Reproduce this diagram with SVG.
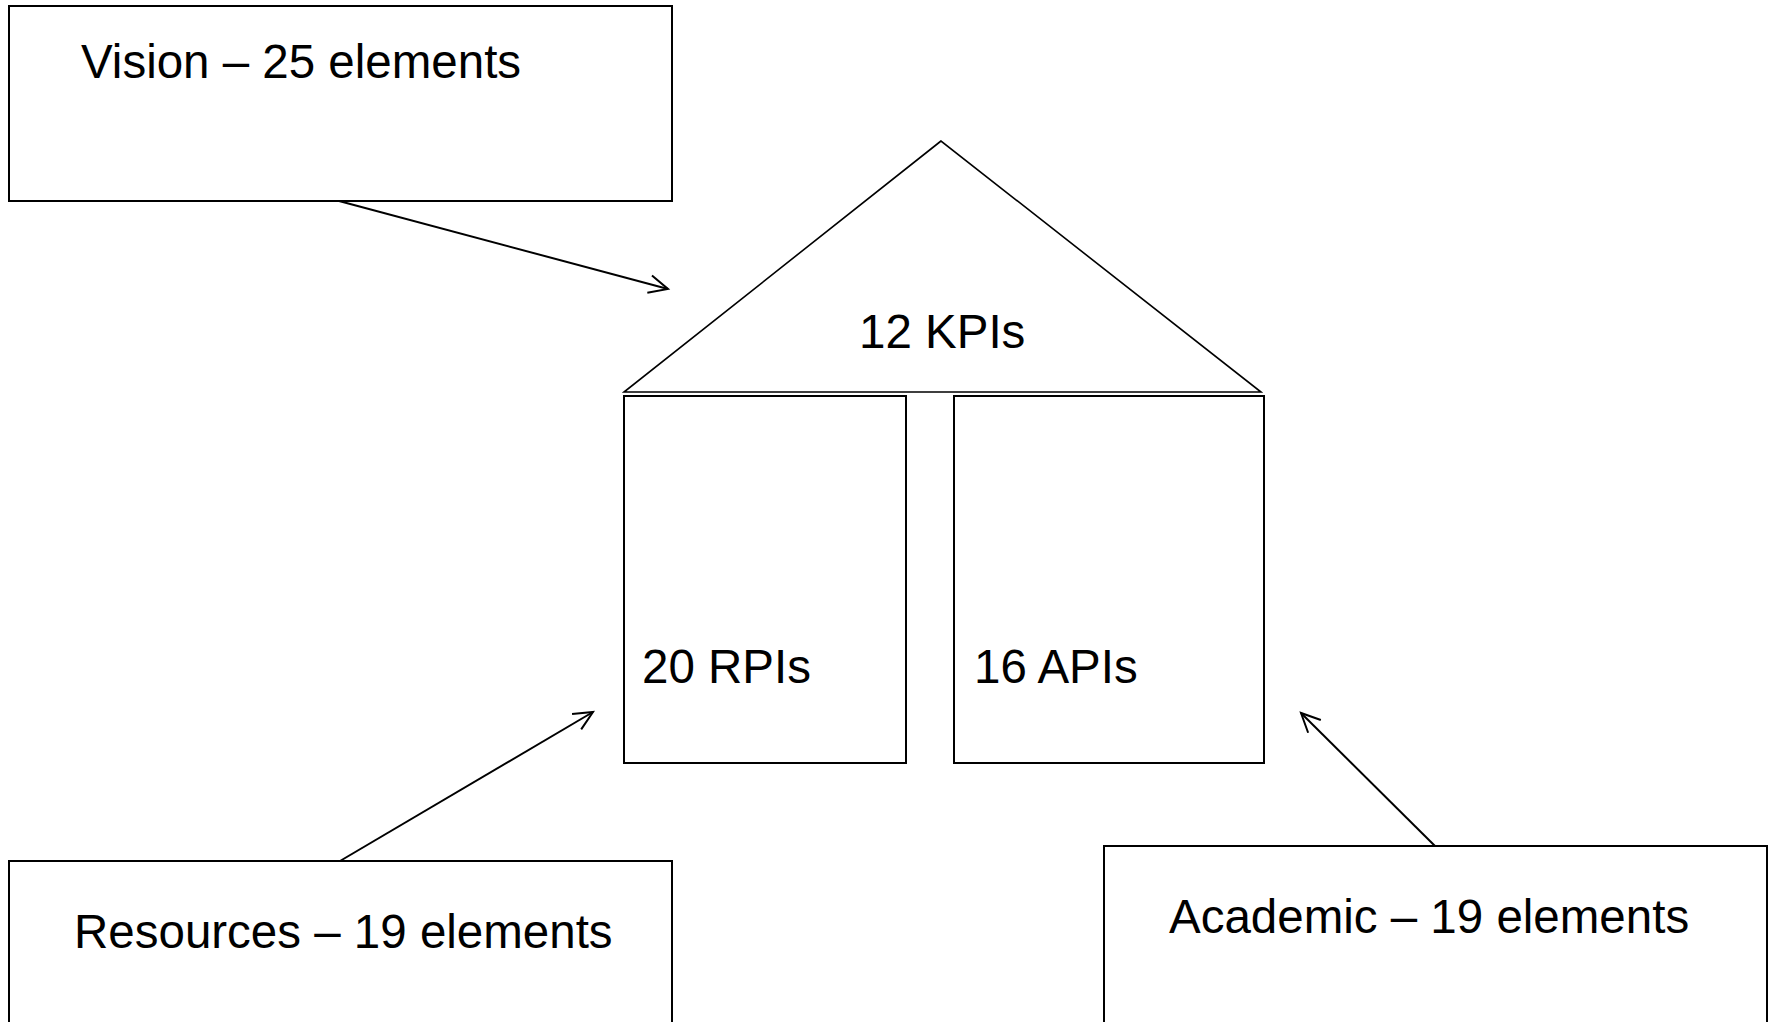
<svg xmlns="http://www.w3.org/2000/svg" width="1771" height="1022" viewBox="0 0 1771 1022">
  <style>
    .box { fill: #ffffff; stroke: #000000; stroke-width: 2; }
    .roof { fill: #ffffff; stroke: #000000; stroke-width: 1.6; }
    .lbl { font-family: "Liberation Sans", Arial, sans-serif; font-size: 47.5px; fill: #000000; }
    .conn { stroke: #000000; stroke-width: 2; fill: none; }
  </style>
  <defs>
    <marker id="arrow" markerUnits="userSpaceOnUse" markerWidth="24" markerHeight="22" viewBox="0 0 24 22" refX="21" refY="11" orient="auto">
      <path d="M2,2 L21,11 L2,20" fill="none" stroke="#000000" stroke-width="2"/>
    </marker>
  </defs>
  <rect width="1771" height="1022" fill="#ffffff"/>

  <g id="vision">
    <rect class="box" x="9" y="6" width="663" height="195"/>
    <text class="lbl" x="81" y="78">Vision – 25 elements</text>
  </g>

  <g id="kpis">
    <polygon class="roof" points="941,141 624,392 1261,392"/>
    <text class="lbl" x="859" y="348">12 KPIs</text>
  </g>

  <g id="rpis">
    <rect class="box" x="624" y="396" width="282" height="367"/>
    <text class="lbl" x="642" y="683">20 RPIs</text>
  </g>

  <g id="apis">
    <rect class="box" x="954" y="396" width="310" height="367"/>
    <text class="lbl" x="974" y="683">16 APIs</text>
  </g>

  <g id="resources">
    <rect class="box" x="9" y="861" width="663" height="200"/>
    <text class="lbl" x="74" y="948">Resources – 19 elements</text>
  </g>

  <g id="academic">
    <rect class="box" x="1104" y="846" width="663" height="200"/>
    <text class="lbl" x="1169" y="933">Academic – 19 elements</text>
  </g>

  <g id="connectors">
    <line class="conn" x1="339" y1="201" x2="668" y2="289" marker-end="url(#arrow)"/>
    <line class="conn" x1="340" y1="861" x2="593" y2="712" marker-end="url(#arrow)"/>
    <line class="conn" x1="1435" y1="846" x2="1301" y2="713" marker-end="url(#arrow)"/>
  </g>
</svg>
